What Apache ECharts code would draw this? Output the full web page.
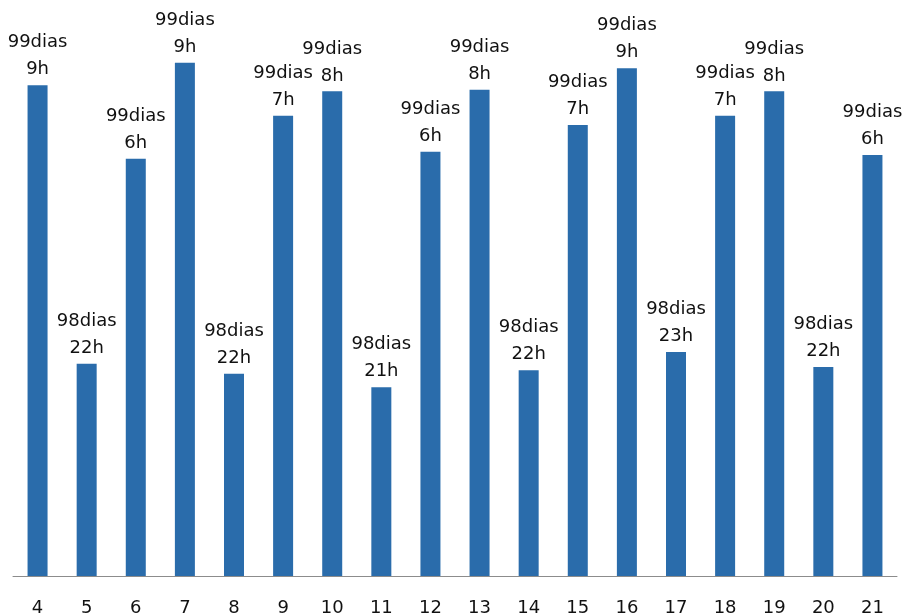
<!DOCTYPE html>
<html>
<head>
<meta charset="utf-8">
<title>Dias</title>
<script src="https://cdn.jsdelivr.net/npm/echarts@6/dist/echarts.min.js"></script>
<style>
  html, body { margin: 0; padding: 0; background: #ffffff; }
  #chart { width: 904px; height: 614px; }
</style>
</head>
<body>
<div id="chart"></div>
<script>
// Day of the month for each bar
const categories = ['4', '5', '6', '7', '8', '9', '10', '11', '12', '13', '14', '15', '16', '17', '18', '19', '20', '21'];

// Total elapsed time for each day, in hours (fractional part = minutes)
const hoursElapsed = [
  2385.08, 2374.82, 2382.37, 2385.90, 2374.45, 2383.95,
  2384.85, 2373.95, 2382.63, 2384.91, 2374.58, 2383.61,
  2385.70, 2375.25, 2383.95, 2384.85, 2374.70, 2382.51
];

// Value-axis window (hours)
const axisMin = 2367;
const axisMax = 2387;

// "99dias\n9h" style label: whole days and the remaining whole hours
function daysHoursLabel(hours) {
  const days = Math.floor(hours / 24);
  const rest = Math.floor(hours - days * 24 + 1e-9);
  return days + 'dias\n' + rest + 'h';
}

const chart = echarts.init(document.getElementById('chart'), null, { renderer: 'canvas' });

chart.setOption({
  animation: false,
  backgroundColor: '#ffffff',
  grid: { left: 13, right: 7, top: 33, bottom: 38, containLabel: false, outerBoundsMode: 'none' },
  xAxis: {
    type: 'category',
    data: categories,
    axisLine: { show: true, lineStyle: { color: '#8c8c8c', width: 1 } },
    axisTick: { show: false },
    axisLabel: {
      color: '#111111',
      fontFamily: 'DejaVu Sans',
      fontSize: 18,
      margin: 23,
      interval: 0
    },
    splitLine: { show: false }
  },
  yAxis: {
    type: 'value',
    min: axisMin,
    max: axisMax,
    show: false,
    splitLine: { show: false }
  },
  series: [{
    type: 'bar',
    data: hoursElapsed,
    barWidth: 20,
    itemStyle: { color: '#2a6cab' },
    label: {
      show: true,
      position: 'top',
      distance: 2,
      color: '#111111',
      fontFamily: 'DejaVu Sans',
      fontSize: 18,
      lineHeight: 27,
      align: 'center',
      formatter: function (p) { return daysHoursLabel(p.value); }
    }
  }]
});
</script>
</body>
</html>
